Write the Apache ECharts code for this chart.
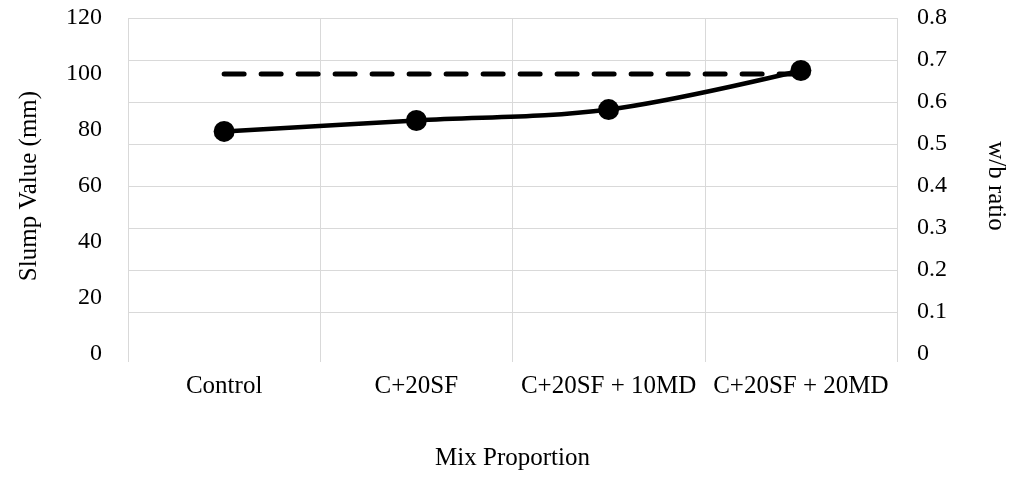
<!DOCTYPE html>
<html>
<head>
<meta charset="utf-8">
<script src="https://cdn.jsdelivr.net/npm/echarts@6/dist/echarts.min.js"></script>
<style>
  html, body { margin: 0; padding: 0; background: #fff; }
  #chart { width: 1016px; height: 488px; }
</style>
</head>
<body>
<div id="chart"></div>
<script>
let categories = ["Control", "C+20SF", "C+20SF + 10MD", "C+20SF + 20MD"];
let slumpValues = [100, 100, 100, 100];
let wbRatio = [0.53, 0.556, 0.582, 0.675];

let fontFam = "'Liberation Serif', 'Times New Roman', serif";
let gridColor = "#d9d9d9";

let chart = echarts.init(document.getElementById('chart'), null, {
  renderer: 'canvas'
});

let option = {
  animation: false,
  textStyle: { fontFamily: fontFam, color: '#000' },
  grid: { left: 128, right: 113, top: 18, bottom: 134 },
  xAxis: {
    type: 'category',
    data: categories,
    boundaryGap: true,
    name: 'Mix Proportion',
    nameLocation: 'middle',
    nameGap: 92,
    nameTextStyle: { fontSize: 25, fontFamily: fontFam, color: '#000' },
    axisLine: { show: false },
    axisTick: { show: true, length: 8, lineStyle: { color: gridColor } },
    axisLabel: { fontSize: 25, fontFamily: fontFam, color: '#000', margin: 20, interval: 0 },
    splitLine: { show: true, lineStyle: { color: gridColor, width: 1 } }
  },
  yAxis: [{
    type: 'value',
    min: 0,
    max: 120,
    interval: 20,
    name: 'Slump Value (mm)',
    nameLocation: 'middle',
    nameGap: 86,
    nameRotate: 90,
    nameTextStyle: { fontSize: 25, fontFamily: fontFam, color: '#000' },
    axisLine: { show: false },
    axisTick: { show: false },
    axisLabel: { fontSize: 24, fontFamily: fontFam, color: '#000', margin: 26 },
    splitLine: { show: false }
  }, {
    type: 'value',
    min: 0,
    max: 0.8,
    interval: 0.1,
    position: 'right',
    name: 'w/b ratio',
    nameLocation: 'middle',
    nameGap: 86,
    nameRotate: -90,
    nameTextStyle: { fontSize: 25, fontFamily: fontFam, color: '#000' },
    axisLine: { show: false },
    axisTick: { show: false },
    axisLabel: { fontSize: 24, fontFamily: fontFam, color: '#000', margin: 20 },
    splitLine: {
      show: true,
      lineStyle: {
        color: ['rgba(0,0,0,0)', gridColor, gridColor, gridColor, gridColor,
          gridColor, gridColor, gridColor, gridColor],
        width: 1
      }
    }
  }],
  series: [{
    name: 'Slump Value (mm)',
    type: 'line',
    yAxisIndex: 0,
    data: slumpValues,
    symbol: 'none',
    z: 2,
    lineStyle: { color: '#000', width: 5, type: [20, 17], cap: 'round' }
  }, {
    name: 'w/b ratio',
    type: 'line',
    yAxisIndex: 1,
    data: wbRatio,
    smooth: 0.35,
    symbol: 'circle',
    symbolSize: 21,
    z: 3,
    itemStyle: { color: '#000' },
    lineStyle: { color: '#000', width: 4.5 }
  }]
};

chart.setOption(option);
</script>
</body>
</html>
